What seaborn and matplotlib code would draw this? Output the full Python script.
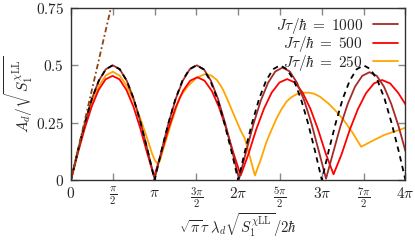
import matplotlib
matplotlib.use('Agg')
import matplotlib.pyplot as plt
import seaborn as sns

# x values are in units of pi
x_ref = [0, .083, .167, .25, .333, .417, .5, .583, .667, .75, .833, .917,
         1, 1.083, 1.167, 1.25, 1.333, 1.417, 1.5, 1.583, 1.667, 1.75, 1.833, 1.917,
         2, 2.083, 2.167, 2.25, 2.333, 2.417, 2.5, 2.583, 2.667, 2.75, 2.833, 2.917,
         3, 3.083, 3.167, 3.25, 3.333, 3.417, 3.5, 3.583, 3.667, 3.75, 3.833, 3.917, 4]
y_ref = [0, .129, .25, .354, .433, .483, .5, .483, .433, .354, .25, .129,
         0, .129, .25, .354, .433, .483, .5, .483, .433, .354, .25, .129,
         0, .129, .25, .354, .433, .483, .5, .483, .433, .354, .25, .129,
         0, .129, .25, .354, .433, .483, .5, .483, .433, .354, .25, .129, 0]

x_lin = [0, 0.5]
y_lin = [0, 0.785]

x_1000 = [0, .083, .167, .25, .333, .417, .5, .583, .667, .75, .833, .917, 1.0,
          1.084, 1.168, 1.253, 1.337, 1.421, 1.505, 1.589, 1.673, 1.758, 1.842, 1.926, 2.01,
          2.097, 2.183, 2.27, 2.357, 2.443, 2.53, 2.617, 2.703, 2.79, 2.877, 2.963, 3.05,
          3.137, 3.223, 3.31, 3.397, 3.483, 3.57, 3.657, 3.743, 3.83, 3.917, 4.0]
y_1000 = [0, .129, .25, .354, .433, .483, .5, .483, .433, .354, .25, .129, .004,
          .129, .25, .354, .433, .483, .5, .483, .433, .354, .25, .129, .005,
          .127, .245, .346, .424, .473, .49, .473, .424, .346, .245, .127, .006,
          .122, .235, .332, .407, .454, .47, .454, .407, .332, .235, .126]

x_500 = [0, .083, .166, .249, .331, .414, .497, .58, .663, .746, .828, .911, .994,
         1.08, 1.167, 1.253, 1.339, 1.426, 1.512, 1.598, 1.685, 1.771, 1.857, 1.944, 2.03,
         2.123, 2.215, 2.308, 2.4, 2.493, 2.585, 2.678, 2.77, 2.863, 2.955, 3.048, 3.14,
         3.237, 3.333, 3.43, 3.527, 3.623, 3.72, 3.817, 3.913, 4.0]
y_500 = [0, .118, .227, .321, .393, .439, .454, .439, .393, .321, .227, .118, .015,
         .116, .224, .317, .388, .433, .448, .433, .388, .317, .224, .116, .02,
         .114, .22, .311, .381, .425, .44, .425, .381, .311, .22, .114, .025,
         .113, .218, .308, .378, .421, .436, .421, .38, .33]

x_250 = [0, .083, .167, .25, .333, .417, .5, .583, .667, .75, .833, .917,
         .97, 1.0, 1.03, 1.06, 1.1, 1.2, 1.3, 1.4, 1.5, 1.605,
         1.68, 1.745, 1.81, 1.865, 1.93, 1.984, 2.03, 2.08, 2.14, 2.2,
         2.27, 2.339, 2.4, 2.459, 2.52, 2.578, 2.64, 2.698, 2.77, 2.838,
         2.91, 2.978, 3.078, 3.17, 3.26, 3.37, 3.47, 3.6, 3.75, 3.9, 4.0]
y_250 = [0, .122, .236, .334, .409, .456, .472, .455, .41, .345, .265, .175,
         .115, .088, .073, .08, .13, .25, .36, .41, .445, .462,
         .455, .436, .40, .356, .30, .254, .215, .18, .10, .02,
         .09, .167, .22, .269, .31, .342, .362, .374, .38, .381,
         .376, .363, .334, .30, .262, .205, .145, .17, .197, .215, .228]

x_ticks = [0, 0.5, 1, 1.5, 2, 2.5, 3, 3.5, 4]
x_ticklabels = [r'$0$', r'$\frac{\pi}{2}$', r'$\pi$', r'$\frac{3\pi}{2}$', r'$2\pi$',
                r'$\frac{5\pi}{2}$', r'$3\pi$', r'$\frac{7\pi}{2}$', r'$4\pi$']
y_ticks = [0, 0.25, 0.5, 0.75]
y_ticklabels = [r'$0$', r'$0.25$', r'$0.5$', r'$0.75$']
labels = [r'$J\tau/\hbar\;=\;1000$', r'$J\tau/\hbar\;=\;500$', r'$J\tau/\hbar\;=\;250$']

sns.set_style('ticks')
plt.rcParams['mathtext.fontset'] = 'cm'
plt.rcParams['font.family'] = ['DejaVu Serif']

fig = plt.figure(figsize=(4.15, 2.41), dpi=100)
ax = fig.add_axes([0.171, 0.253, 0.806, 0.714])

sns.lineplot(x=x_250, y=y_250, ax=ax, color='#ffa500', lw=1.3, legend=False)
h250 = ax.lines[-1]
sns.lineplot(x=x_500, y=y_500, ax=ax, color='#ff0000', lw=1.3, legend=False)
h500 = ax.lines[-1]
sns.lineplot(x=x_1000, y=y_1000, ax=ax, color='#a52a2a', lw=1.3, legend=False)
h1000 = ax.lines[-1]
sns.lineplot(x=x_ref, y=y_ref, ax=ax, color='black', lw=1.3, linestyle=(0, (3, 2.5)), legend=False)
sns.lineplot(x=x_lin, y=y_lin, ax=ax, color='#8b4513', lw=1.3, linestyle=(0, (3, 1.5, 1, 1.5)), legend=False)

ax.set_xlim(0, 4)
ax.set_ylim(0, 0.75)
ax.set_xticks(x_ticks)
ax.set_xticklabels(x_ticklabels, fontsize=11)
ax.set_yticks(y_ticks)
ax.set_yticklabels(y_ticklabels, fontsize=11)
ax.tick_params(direction='in', top=True, right=True, length=5, width=1, color='#888888', pad=5)
ax.tick_params(axis='x', pad=4)
for s in ax.spines.values():
    s.set_color('#333333')
    s.set_linewidth(1)

ax.set_xlabel(r'$\sqrt{\pi}\tau\ \lambda_d\sqrt{S_1^{\chi\mathrm{LL}}}/2\hbar$', fontsize=10.5, va='center')
ax.xaxis.set_label_coords(0.5, -0.265)
ax.set_ylabel(r'$A_d/\sqrt{S_1^{\chi\mathrm{LL}}}$', fontsize=11, va='center')
ax.yaxis.set_label_coords(-0.155, 0.5)

ax.legend(handles=[h1000, h500, h250], labels=labels, loc='upper right', frameon=False,
          markerfirst=False, fontsize=11, handlelength=1.6, handletextpad=0.7,
          labelspacing=-0.1, borderaxespad=0.1)

fig.savefig('out.png', dpi=100)
